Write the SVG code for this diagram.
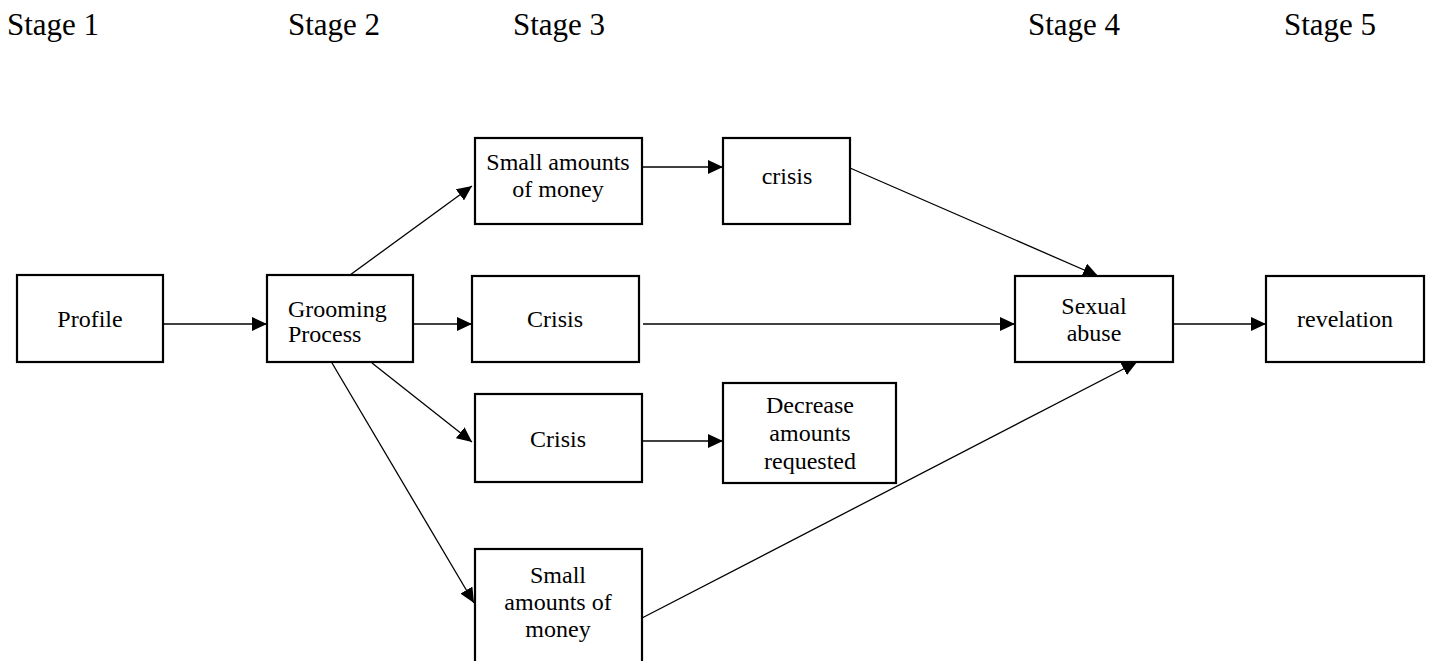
<svg xmlns="http://www.w3.org/2000/svg" width="1430" height="661" viewBox="0 0 1430 661">
  <style>
    .box { fill: #fff; stroke: #000; stroke-width: 2.2; }
    .lbl { font-family: "Liberation Serif", "Times New Roman", serif; font-size: 24px; fill: #000; text-anchor: middle; }
    .stage { font-family: "Liberation Serif", "Times New Roman", serif; font-size: 31px; fill: #000; }
    .edge { stroke: #000; stroke-width: 1.3; fill: none; marker-end: url(#arrow); }
  </style>
  <defs>
    <marker id="arrow" markerUnits="userSpaceOnUse" markerWidth="15" markerHeight="14" refX="15" refY="7" orient="auto">
      <path d="M0,0 L15,7 L0,14 z" fill="#000"/>
    </marker>
  </defs>
  <rect width="1430" height="661" fill="#fff"/>

  <!-- stage headings -->
  <g id="stages">
    <text class="stage" x="7" y="35">Stage 1</text>
    <text class="stage" x="288" y="35">Stage 2</text>
    <text class="stage" x="513" y="35">Stage 3</text>
    <text class="stage" x="1028" y="35">Stage 4</text>
    <text class="stage" x="1284" y="35">Stage 5</text>
  </g>

  <!-- connectors -->
  <g id="connectors">
    <line class="edge" x1="164" y1="324" x2="267" y2="324"/>
    <line class="edge" x1="414" y1="324" x2="472" y2="324"/>
    <line class="edge" x1="643" y1="324" x2="1015" y2="324"/>
    <line class="edge" x1="1174" y1="324" x2="1266" y2="324"/>
    <line class="edge" x1="643" y1="167" x2="723" y2="167"/>
    <line class="edge" x1="643" y1="441" x2="723" y2="441"/>
    <line class="edge" x1="350" y1="275" x2="472" y2="186"/>
    <line class="edge" x1="372" y1="363" x2="472" y2="442"/>
    <line class="edge" x1="332" y1="363" x2="474" y2="603"/>
    <line class="edge" x1="850" y1="168" x2="1098" y2="276"/>
    <line class="edge" x1="642" y1="618" x2="1137" y2="362"/>
  </g>

  <!-- nodes -->
  <g id="profile">
    <rect class="box" x="17" y="275" width="146" height="87"/>
    <text class="lbl" x="90" y="327">Profile</text>
  </g>
  <g id="grooming">
    <rect class="box" x="267" y="275" width="146" height="87"/>
    <text class="lbl" x="288" y="317" style="text-anchor:start">Grooming</text>
    <text class="lbl" x="288" y="342" style="text-anchor:start">Process</text>
  </g>
  <g id="small-money-top">
    <rect class="box" x="475" y="138" width="167" height="86"/>
    <text class="lbl" x="558" y="170">Small amounts</text>
    <text class="lbl" x="558" y="197">of money</text>
  </g>
  <g id="crisis-top">
    <rect class="box" x="723" y="138" width="127" height="86"/>
    <text class="lbl" x="787" y="184">crisis</text>
  </g>
  <g id="crisis-mid">
    <rect class="box" x="472" y="276" width="167" height="86"/>
    <text class="lbl" x="555" y="327">Crisis</text>
  </g>
  <g id="crisis-low">
    <rect class="box" x="475" y="394" width="167" height="88"/>
    <text class="lbl" x="558" y="447">Crisis</text>
  </g>
  <g id="decrease">
    <rect class="box" x="723" y="383" width="173" height="100"/>
    <text class="lbl" x="810" y="413">Decrease</text>
    <text class="lbl" x="810" y="441">amounts</text>
    <text class="lbl" x="810" y="469">requested</text>
  </g>
  <g id="small-money-bottom">
    <rect class="box" x="475" y="549" width="167" height="140"/>
    <text class="lbl" x="558" y="583">Small</text>
    <text class="lbl" x="558" y="610">amounts of</text>
    <text class="lbl" x="558" y="637">money</text>
  </g>
  <g id="sexual-abuse">
    <rect class="box" x="1015" y="276" width="158" height="86"/>
    <text class="lbl" x="1094" y="314">Sexual</text>
    <text class="lbl" x="1094" y="341">abuse</text>
  </g>
  <g id="revelation">
    <rect class="box" x="1266" y="276" width="158" height="86"/>
    <text class="lbl" x="1345" y="327">revelation</text>
  </g>
</svg>
